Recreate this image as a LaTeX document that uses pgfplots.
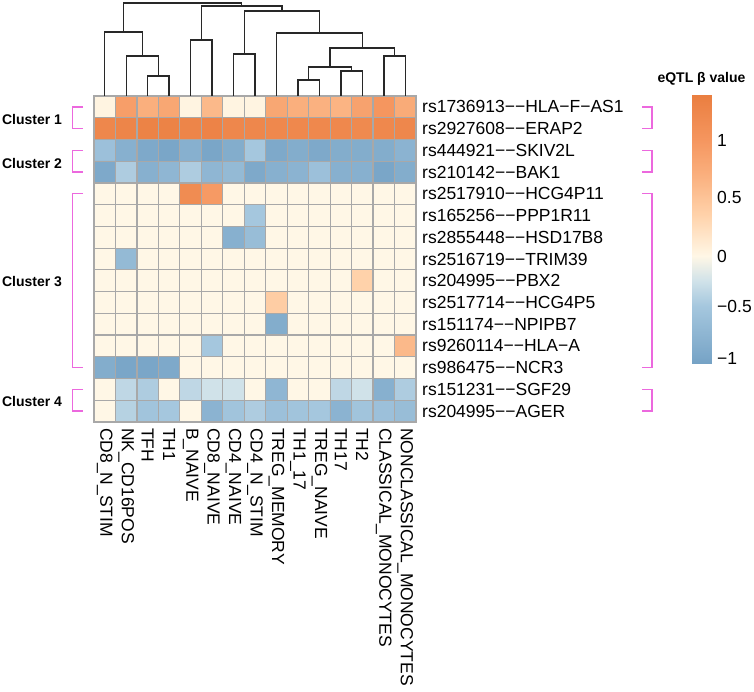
\documentclass[border=0pt]{standalone}
\usepackage{fontspec}
\setmainfont{Liberation Sans}
\usepackage{pgfplots}
\pgfplotsset{compat=1.18}
\definecolor{cellgrid}{RGB}{168,168,168}
\definecolor{brk}{RGB}{236,104,222}
\definecolor{dend}{RGB}{40,40,40}
\pgfplotsset{colormap={eqtl}{rgb255(0pt)=(112,158,194) rgb255(10pt)=(122,166,200) rgb255(60pt)=(165,199,222) rgb255(85pt)=(208,226,233) rgb255(110pt)=(255,247,230) rgb255(145pt)=(255,210,170) rgb255(180pt)=(250,175,125) rgb255(210pt)=(245,150,95) rgb255(245pt)=(234,126,64)}}
\pgfplotsset{dendl/.style={dend, line width=1.4pt, no marks}}
\begin{document}
\begin{tikzpicture}
\path[use as bounding box] (0,0) rectangle (754pt,692pt);
% ---------------- heatmap ----------------
\begin{axis}[
  at={(94pt,270pt)}, anchor=south west,
  scale only axis, width=322pt, height=326pt,
  xmin=0.5, xmax=15.5, ymin=0.5, ymax=15.5, enlargelimits=false,
  y dir=reverse, clip=false,
  colormap name=eqtl, point meta min=-1.1, point meta max=1.35,
  axis on top,
  axis line style={draw=cellgrid, line width=1.2pt},
  major tick length=0pt, minor tick length=0pt,
  minor xtick={1.5,2.5,3.5,4.5,5.5,6.5,7.5,8.5,9.5,10.5,11.5,12.5,13.5,14.5},
  minor ytick={1.5,2.5,3.5,4.5,5.5,6.5,7.5,8.5,9.5,10.5,11.5,12.5,13.5,14.5},
  xminorgrids=true, yminorgrids=true,
  minor grid style={draw=cellgrid, line width=1.2pt},
  xtick={1,...,15}, ytick={1,...,15},
  xticklabels={CD8\_N\_STIM,NK\_CD16POS,TFH,TH1,B\_NAIVE,CD8\_NAIVE,CD4\_NAIVE,CD4\_N\_STIM,TREG\_MEMORY,TH1\_17,TREG\_NAIVE,TH17,TH2,CLASSICAL\_MONOCYTES,NONCLASSICAL\_MONOCYTES},
  yticklabels={rs1736913−−HLA−F−AS1,rs2927608−−ERAP2,rs444921−−SKIV2L,rs210142−−BAK1,rs2517910−−HCG4P11,rs165256−−PPP1R11,rs2855448−−HSD17B8,rs2516719−−TRIM39,rs204995−−PBX2,rs2517714−−HCG4P5,rs151174−−NPIPB7,rs9260114−−HLA−A,rs986475−−NCR3,rs151231−−SGF29,rs204995−−AGER},
  tick label style={font=\fontsize{17.5}{20}\selectfont, inner sep=0pt},
  xticklabel style={rotate=-90, anchor=west},
  xticklabel shift=6pt,
  yticklabel pos=right,
  yticklabel style={anchor=west},
  yticklabel shift=6pt,
]
\addplot[matrix plot*, mesh/cols=15, mesh/rows=15, point meta=explicit]
 table[row sep=\\, meta=c]{
x y c\\
1 1 0.03\\ 2 1 0.9\\ 3 1 0.7\\ 4 1 0.8\\ 5 1 0.03\\ 6 1 0.6\\ 7 1 0.03\\ 8 1 0.03\\ 9 1 0.8\\ 10 1 0.7\\ 11 1 0.68\\ 12 1 0.65\\ 13 1 0.85\\ 14 1 1.0\\ 15 1 0.75\\
1 2 1.22\\ 2 2 1.25\\ 3 2 1.28\\ 4 2 1.28\\ 5 2 1.25\\ 6 2 1.27\\ 7 2 1.22\\ 8 2 1.22\\ 9 2 1.2\\ 10 2 1.2\\ 11 2 1.2\\ 12 2 1.2\\ 13 2 1.18\\ 14 2 1.2\\ 15 2 1.22\\
1 3 -0.6\\ 2 3 -0.85\\ 3 3 -0.95\\ 4 3 -1.0\\ 5 3 -0.85\\ 6 3 -1.0\\ 7 3 -0.9\\ 8 3 -0.5\\ 9 3 -0.95\\ 10 3 -0.9\\ 11 3 -0.95\\ 12 3 -0.9\\ 13 3 -0.9\\ 14 3 -0.9\\ 15 3 -0.8\\
1 4 -0.95\\ 2 4 -0.45\\ 3 4 -0.85\\ 4 4 -0.75\\ 5 4 -0.45\\ 6 4 -0.75\\ 7 4 -0.7\\ 8 4 -0.95\\ 9 4 -0.85\\ 10 4 -0.8\\ 11 4 -0.6\\ 12 4 -0.85\\ 13 4 -0.85\\ 14 4 -1.0\\ 15 4 -0.9\\
1 5 0\\ 2 5 0\\ 3 5 0\\ 4 5 0\\ 5 5 1.15\\ 6 5 0.95\\ 7 5 0\\ 8 5 0\\ 9 5 0\\ 10 5 0\\ 11 5 0\\ 12 5 0\\ 13 5 0\\ 14 5 0\\ 15 5 0\\
1 6 0\\ 2 6 0\\ 3 6 0\\ 4 6 0\\ 5 6 0\\ 6 6 0\\ 7 6 0\\ 8 6 -0.5\\ 9 6 0\\ 10 6 0\\ 11 6 0\\ 12 6 0\\ 13 6 0\\ 14 6 0\\ 15 6 0\\
1 7 0\\ 2 7 0\\ 3 7 0\\ 4 7 0\\ 5 7 0\\ 6 7 0\\ 7 7 -0.85\\ 8 7 -0.65\\ 9 7 0\\ 10 7 0\\ 11 7 0\\ 12 7 0\\ 13 7 0\\ 14 7 0\\ 15 7 0\\
1 8 0\\ 2 8 -0.7\\ 3 8 0\\ 4 8 0\\ 5 8 0\\ 6 8 0\\ 7 8 0\\ 8 8 0\\ 9 8 0\\ 10 8 0\\ 11 8 0\\ 12 8 0\\ 13 8 0\\ 14 8 0\\ 15 8 0\\
1 9 0\\ 2 9 0\\ 3 9 0\\ 4 9 0\\ 5 9 0\\ 6 9 0\\ 7 9 0\\ 8 9 0\\ 9 9 0\\ 10 9 0\\ 11 9 0\\ 12 9 0\\ 13 9 0.35\\ 14 9 0\\ 15 9 0\\
1 10 0\\ 2 10 0\\ 3 10 0\\ 4 10 0\\ 5 10 0\\ 6 10 0\\ 7 10 0\\ 8 10 0\\ 9 10 0.4\\ 10 10 0\\ 11 10 0\\ 12 10 0\\ 13 10 0\\ 14 10 0\\ 15 10 0\\
1 11 0\\ 2 11 0\\ 3 11 0\\ 4 11 0\\ 5 11 0\\ 6 11 0\\ 7 11 0\\ 8 11 0\\ 9 11 -0.9\\ 10 11 0\\ 11 11 0\\ 12 11 0\\ 13 11 0\\ 14 11 0\\ 15 11 0\\
1 12 0\\ 2 12 0\\ 3 12 0\\ 4 12 0\\ 5 12 0\\ 6 12 -0.5\\ 7 12 0\\ 8 12 0\\ 9 12 0\\ 10 12 0\\ 11 12 0\\ 12 12 0\\ 13 12 0\\ 14 12 0\\ 15 12 0.6\\
1 13 -0.9\\ 2 13 -1.0\\ 3 13 -1.0\\ 4 13 -0.95\\ 5 13 0\\ 6 13 0\\ 7 13 0\\ 8 13 0\\ 9 13 0\\ 10 13 0\\ 11 13 0\\ 12 13 0\\ 13 13 0\\ 14 13 0\\ 15 13 0\\
1 14 0\\ 2 14 -0.35\\ 3 14 -0.45\\ 4 14 0\\ 5 14 -0.35\\ 6 14 -0.25\\ 7 14 -0.25\\ 8 14 0\\ 9 14 -0.75\\ 10 14 0\\ 11 14 0\\ 12 14 -0.35\\ 13 14 -0.25\\ 14 14 -0.85\\ 15 14 -0.45\\
1 15 0\\ 2 15 -0.4\\ 3 15 -0.55\\ 4 15 -0.5\\ 5 15 0\\ 6 15 -0.8\\ 7 15 -0.55\\ 8 15 -0.45\\ 9 15 -0.6\\ 10 15 -0.55\\ 11 15 -0.5\\ 12 15 -0.8\\ 13 15 -0.55\\ 14 15 -0.6\\ 15 15 -0.65\\
};
% left and right brackets
\draw[brk, line width=1.3pt] (axis cs:-0.01,1) -- (axis cs:-0.49,1) -- (axis cs:-0.49,2) -- (axis cs:-0.01,2);
\draw[brk, line width=1.3pt] (axis cs:-0.01,3) -- (axis cs:-0.49,3) -- (axis cs:-0.49,4) -- (axis cs:-0.01,4);
\draw[brk, line width=1.3pt] (axis cs:-0.01,5) -- (axis cs:-0.49,5) -- (axis cs:-0.49,13) -- (axis cs:-0.01,13);
\draw[brk, line width=1.3pt] (axis cs:-0.01,14) -- (axis cs:-0.49,14) -- (axis cs:-0.49,15) -- (axis cs:-0.01,15);
\draw[brk, line width=1.3pt] (axis cs:26.03,1) -- (axis cs:26.49,1) -- (axis cs:26.49,2) -- (axis cs:26.03,2);
\draw[brk, line width=1.3pt] (axis cs:26.03,3) -- (axis cs:26.49,3) -- (axis cs:26.49,4) -- (axis cs:26.03,4);
\draw[brk, line width=1.3pt] (axis cs:26.03,5) -- (axis cs:26.49,5) -- (axis cs:26.49,13) -- (axis cs:26.03,13);
\draw[brk, line width=1.3pt] (axis cs:26.03,14) -- (axis cs:26.49,14) -- (axis cs:26.49,15) -- (axis cs:26.03,15);
\node[anchor=west, inner sep=0pt, font=\bfseries\fontsize{14}{16}\selectfont] at (axis cs:-3.79,1.6) {Cluster 1};
\node[anchor=west, inner sep=0pt, font=\bfseries\fontsize{14}{16}\selectfont] at (axis cs:-3.79,3.6) {Cluster 2};
\node[anchor=west, inner sep=0pt, font=\bfseries\fontsize{14}{16}\selectfont] at (axis cs:-3.79,9.05) {Cluster 3};
\node[anchor=west, inner sep=0pt, font=\bfseries\fontsize{14}{16}\selectfont] at (axis cs:-3.79,14.55) {Cluster 4};
\end{axis}
% ---------------- dendrogram ----------------
\begin{axis}[
  at={(94pt,596pt)}, anchor=south west,
  scale only axis, width=322pt, height=96pt,
  xmin=0.5, xmax=15.5, ymin=0, ymax=96, enlargelimits=false,
  hide axis, clip=false,
]
\addplot[dendl] coordinates {(3,0) (3,20) (4,20) (4,0)};
\addplot[dendl] coordinates {(2,0) (2,40) (3.5,40) (3.5,20)};
\addplot[dendl] coordinates {(1,0) (1,64) (2.75,64) (2.75,40)};
\addplot[dendl] coordinates {(5,0) (5,56) (6,56) (6,0)};
\addplot[dendl] coordinates {(7,0) (7,42) (8,42) (8,0)};
\addplot[dendl] coordinates {(10,0) (10,16) (11,16) (11,0)};
\addplot[dendl] coordinates {(12,0) (12,25) (13,25) (13,0)};
\addplot[dendl] coordinates {(10.5,16) (10.5,29) (12.5,29) (12.5,25)};
\addplot[dendl] coordinates {(14,0) (14,40) (15,40) (15,0)};
\addplot[dendl] coordinates {(11.5,29) (11.5,48) (14.5,48) (14.5,40)};
\addplot[dendl] coordinates {(9,0) (9,63) (13,63) (13,48)};
\addplot[dendl] coordinates {(7.5,42) (7.5,85) (11,85) (11,63)};
\addplot[dendl] coordinates {(5.5,56) (5.5,90) (9.25,90) (9.25,85)};
\addplot[dendl] coordinates {(1.875,64) (1.875,93) (7.375,93) (7.375,90)};
\end{axis}
% ---------------- colour bar ----------------
\begin{axis}[
  at={(692pt,328pt)}, anchor=south west,
  scale only axis, width=19pt, height=269pt,
  xmin=0, xmax=1, ymin=95, ymax=364, enlargelimits=false,
  y dir=reverse, clip=false,
  colormap name=eqtl, point meta min=-1.1, point meta max=1.35,
  axis line style={draw=none},
  xtick=\empty, major tick length=0pt,
  ytick={140,197,256,306,358},
  yticklabels={1,0.5,0,−0.5,−1},
  yticklabel pos=right,
  yticklabel style={anchor=west, inner sep=0pt, font=\fontsize{17.5}{20}\selectfont},
  yticklabel shift=6pt,
]
\addplot[surf, shader=interp, mesh/cols=2, mesh/rows=7, point meta=explicit]
 table[row sep=\\, meta=c]{
x y c\\
0 95 1.39\\ 1 95 1.39\\
0 140 1\\ 1 140 1\\
0 197 0.5\\ 1 197 0.5\\
0 256 0\\ 1 256 0\\
0 306 -0.5\\ 1 306 -0.5\\
0 358 -1\\ 1 358 -1\\
0 364 -1.06\\ 1 364 -1.06\\
};
\node[font=\bfseries\fontsize{14}{16}\selectfont, inner sep=0pt] at (axis cs:0.5,79) {eQTL β value};
\end{axis}
\end{tikzpicture}
\end{document}
